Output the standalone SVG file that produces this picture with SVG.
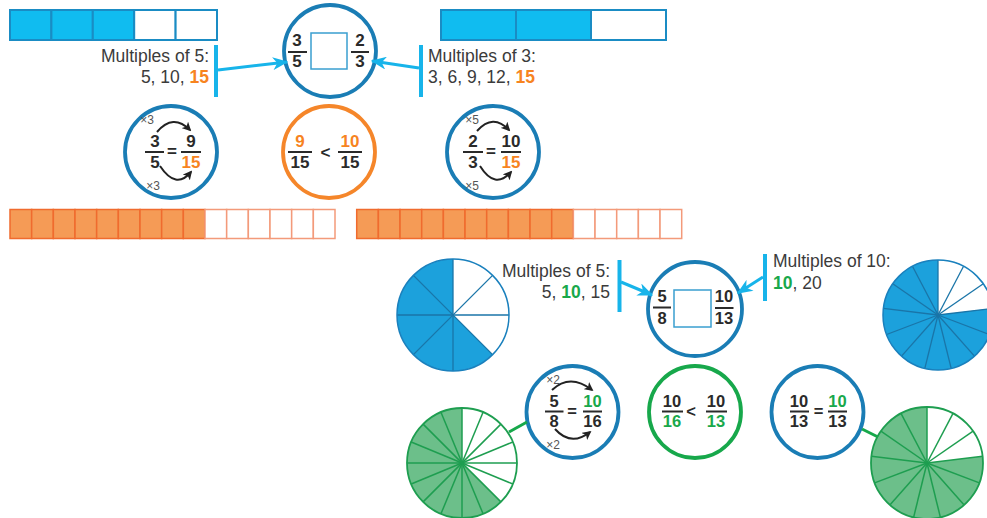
<svg xmlns="http://www.w3.org/2000/svg" width="987" height="518" viewBox="0 0 987 518">
<style>
.lab{font-family:"Liberation Sans",Arial,sans-serif;font-size:17.5px;fill:#3b3b3b}
.fr{font-family:"Liberation Sans",Arial,sans-serif;font-weight:bold;font-size:17px;fill:#2a2a2a;text-anchor:middle}
.fs{font-size:16.5px}
.or{fill:#f7841f}
.gr{fill:#19a84b}
.b{font-weight:bold}
.sm{font-family:"Liberation Sans",Arial,sans-serif;font-size:12px;fill:#555;text-anchor:middle}
.fb{stroke:#2a2a2a;stroke-width:2}
.cb{fill:none;stroke:#1a7db5;stroke-width:3.8}
.co{fill:none;stroke:#f5862a;stroke-width:3.8}
.cg{fill:none;stroke:#17a84b;stroke-width:3.8}
.bc{fill:#10bcf0;stroke:#1a8cc4;stroke-width:2}
.bw{fill:#fff;stroke:#1a8cc4;stroke-width:2}
.oc{fill:#f59b56;stroke:#f06b2e;stroke-width:1.5}
.ow{fill:#fff;stroke:#f39a7a;stroke-width:1.5}
.arc{fill:none;stroke:#222;stroke-width:2}
.cy{stroke:#17b4ea;stroke-width:3;fill:none}
.brk{stroke:#17b4ea;stroke-width:4}
.sq{fill:#fff;stroke:#3a9fd0;stroke-width:1.5}
.pbl{stroke:#1a75a8;stroke-width:1.3}
.pgl{stroke:#1e9e50;stroke-width:1.5}
</style>
<defs>
<marker id="cyh" viewBox="0 0 12 10" refX="11" refY="5" markerWidth="16" markerHeight="13" markerUnits="userSpaceOnUse" orient="auto"><path d="M0,0 L12,5 L0,10 L3.5,5 Z" fill="#17b4ea"/></marker>
<marker id="bk" viewBox="0 0 10 10" refX="8" refY="5" markerWidth="9" markerHeight="9" markerUnits="userSpaceOnUse" orient="auto"><path d="M0,0 L10,5 L0,10 L2.5,5 Z" fill="#222"/></marker>
</defs>

<g id="bar-3-5">
<rect class="bc" x="10" y="10" width="41.4" height="30"/>
<rect class="bc" x="51.4" y="10" width="41.4" height="30"/>
<rect class="bc" x="92.8" y="10" width="41.4" height="30"/>
<rect class="bw" x="134.2" y="10" width="41.4" height="30"/>
<rect class="bw" x="175.6" y="10" width="41.4" height="30"/>
</g>
<g id="bar-2-3">
<rect class="bc" x="441" y="10" width="75" height="30"/>
<rect class="bc" x="516" y="10" width="75" height="30"/>
<rect class="bw" x="591" y="10" width="75" height="30"/>
</g>

<g id="label-mult5-top">
<text class="lab" x="209" y="62" text-anchor="end">Multiples of 5:</text>
<text class="lab" x="209" y="83" text-anchor="end">5, 10, <tspan class="b or">15</tspan></text>
<line class="brk" x1="216" y1="45" x2="216" y2="97"/>
</g>
<g id="label-mult3-top">
<text class="lab" x="428" y="62">Multiples of 3:</text>
<text class="lab" x="428" y="83">3, 6, 9, 12, <tspan class="b or">15</tspan></text>
<line class="brk" x1="421" y1="45" x2="421" y2="97"/>
</g>

<g id="compare-top">
<circle class="cb" cx="330" cy="51" r="46"/>
<rect class="sq" x="311" y="33" width="36" height="36"/>
<text class="fr" x="297" y="46">3</text>
<line class="fb" x1="288" y1="52" x2="307" y2="52"/>
<text class="fr" x="297" y="67">5</text>
<text class="fr" x="360" y="46">2</text>
<line class="fb" x1="351" y1="52" x2="369" y2="52"/>
<text class="fr" x="360" y="67">3</text>
</g>

<g id="equiv-3-5">
<circle class="cb" cx="171" cy="152" r="46"/>
<text class="sm" x="147" y="124">×3</text>
<path class="arc" d="M157,132 Q173,113 190,130" marker-end="url(#bk)"/>
<text class="fr" x="155" y="147">3</text>
<line class="fb" x1="145" y1="152" x2="164" y2="152"/>
<text class="fr" x="155" y="168">5</text>
<text class="fr" x="172" y="157">=</text>
<text class="fr" x="191" y="147">9</text>
<line class="fb" x1="181" y1="152" x2="201" y2="152"/>
<text class="fr or" x="191" y="168">15</text>
<path class="arc" d="M160,166 Q176,190 191,172" marker-end="url(#bk)"/>
<text class="sm" x="153" y="190">×3</text>
</g>

<g id="result-top">
<circle class="co" cx="329" cy="152" r="46"/>
<text class="fr or" x="300" y="147">9</text>
<line class="fb" x1="288" y1="152" x2="312" y2="152"/>
<text class="fr" x="300" y="168">15</text>
<text class="fr" x="325.5" y="158">&lt;</text>
<text class="fr or" x="350" y="147">10</text>
<line class="fb" x1="338" y1="152" x2="362" y2="152"/>
<text class="fr" x="350" y="168">15</text>
</g>

<g id="equiv-2-3">
<circle class="cb" cx="493" cy="152" r="46"/>
<text class="sm" x="472" y="124">×5</text>
<path class="arc" d="M477,131 Q493,113 509,130" marker-end="url(#bk)"/>
<text class="fr" x="473" y="147">2</text>
<line class="fb" x1="463" y1="152" x2="483" y2="152"/>
<text class="fr" x="473" y="168">3</text>
<text class="fr" x="491" y="157">=</text>
<text class="fr" x="511" y="147">10</text>
<line class="fb" x1="501" y1="152" x2="521" y2="152"/>
<text class="fr or" x="511" y="168">15</text>
<path class="arc" d="M480,166 Q495,190 511,172" marker-end="url(#bk)"/>
<text class="sm" x="472" y="190">×5</text>
</g>

<g id="bar-9-15">
<rect class="oc" x="10" y="209.5" width="21.67" height="29"/>
<rect class="oc" x="31.67" y="209.5" width="21.67" height="29"/>
<rect class="oc" x="53.33" y="209.5" width="21.67" height="29"/>
<rect class="oc" x="75" y="209.5" width="21.67" height="29"/>
<rect class="oc" x="96.67" y="209.5" width="21.67" height="29"/>
<rect class="oc" x="118.33" y="209.5" width="21.67" height="29"/>
<rect class="oc" x="140" y="209.5" width="21.67" height="29"/>
<rect class="oc" x="161.67" y="209.5" width="21.67" height="29"/>
<rect class="oc" x="183.33" y="209.5" width="21.67" height="29"/>
<rect class="ow" x="205" y="209.5" width="21.67" height="29"/>
<rect class="ow" x="226.67" y="209.5" width="21.67" height="29"/>
<rect class="ow" x="248.33" y="209.5" width="21.67" height="29"/>
<rect class="ow" x="270" y="209.5" width="21.67" height="29"/>
<rect class="ow" x="291.67" y="209.5" width="21.67" height="29"/>
<rect class="ow" x="313.33" y="209.5" width="21.67" height="29"/>
</g>
<g id="bar-10-15">
<rect class="oc" x="356.7" y="209.5" width="21.67" height="29"/>
<rect class="oc" x="378.37" y="209.5" width="21.67" height="29"/>
<rect class="oc" x="400.03" y="209.5" width="21.67" height="29"/>
<rect class="oc" x="421.7" y="209.5" width="21.67" height="29"/>
<rect class="oc" x="443.37" y="209.5" width="21.67" height="29"/>
<rect class="oc" x="465.03" y="209.5" width="21.67" height="29"/>
<rect class="oc" x="486.7" y="209.5" width="21.67" height="29"/>
<rect class="oc" x="508.37" y="209.5" width="21.67" height="29"/>
<rect class="oc" x="530.03" y="209.5" width="21.67" height="29"/>
<rect class="oc" x="551.7" y="209.5" width="21.67" height="29"/>
<rect class="ow" x="573.37" y="209.5" width="21.67" height="29"/>
<rect class="ow" x="595.03" y="209.5" width="21.67" height="29"/>
<rect class="ow" x="616.7" y="209.5" width="21.67" height="29"/>
<rect class="ow" x="638.37" y="209.5" width="21.67" height="29"/>
<rect class="ow" x="660.03" y="209.5" width="21.67" height="29"/>
</g>

<g id="pie-5-8">
<circle cx="453" cy="315" r="56" fill="#1ca1dc"/>
<path d="M453,315 L453,259 A56,56 0 0 1 492.6,354.6 Z" fill="#fff"/>
<g class="pbl">
<line x1="453" y1="259" x2="453" y2="371"/>
<line x1="397" y1="315" x2="509" y2="315"/>
<line x1="413.4" y1="275.4" x2="492.6" y2="354.6"/>
<line x1="492.6" y1="275.4" x2="413.4" y2="354.6"/>
</g>
<circle cx="453" cy="315" r="56" fill="none" stroke="#1a80bd" stroke-width="1.5"/>
</g>

<g id="pie-10-13-blue">
<circle cx="938" cy="315" r="55" fill="#1ca1dc"/>
<path d="M938,315 L938,260 A55,55 0 0 1 992.6,308.37 Z" fill="#fff"/>
<g class="pbl">
<line x1="938" y1="315" x2="938" y2="260"/>
<line x1="938" y1="315" x2="963.56" y2="266.3"/>
<line x1="938" y1="315" x2="983.26" y2="283.75"/>
<line x1="938" y1="315" x2="992.6" y2="308.37"/>
<line x1="938" y1="315" x2="989.42" y2="334.5"/>
<line x1="938" y1="315" x2="974.47" y2="356.17"/>
<line x1="938" y1="315" x2="951.16" y2="368.4"/>
<line x1="938" y1="315" x2="924.84" y2="368.4"/>
<line x1="938" y1="315" x2="901.53" y2="356.17"/>
<line x1="938" y1="315" x2="886.58" y2="334.5"/>
<line x1="938" y1="315" x2="883.4" y2="308.37"/>
<line x1="938" y1="315" x2="892.74" y2="283.75"/>
<line x1="938" y1="315" x2="912.44" y2="266.3"/>
</g>
<circle cx="938" cy="315" r="55" fill="none" stroke="#1a80bd" stroke-width="1.5"/>
</g>

<g id="label-mult5-bottom">
<text class="lab" x="610" y="277" text-anchor="end">Multiples of 5:</text>
<text class="lab" x="610" y="298" text-anchor="end">5, <tspan class="b gr">10</tspan>, 15</text>
<line class="brk" x1="619.5" y1="260" x2="619.5" y2="312"/>
</g>
<g id="label-mult10-bottom">
<text class="lab" x="773" y="267">Multiples of 10:</text>
<text class="lab" x="773" y="289"><tspan class="b gr">10</tspan>, 20</text>
<line class="brk" x1="765" y1="254" x2="765" y2="301"/>
</g>

<g id="compare-bottom">
<circle class="cb" cx="695" cy="309" r="47"/>
<rect class="sq" x="674" y="290" width="37" height="37"/>
<text class="fr fs" x="662" y="302">5</text>
<line class="fb" x1="653" y1="307.5" x2="671" y2="307.5"/>
<text class="fr fs" x="662" y="324">8</text>
<text class="fr fs" x="724" y="302">10</text>
<line class="fb" x1="715" y1="308" x2="733.5" y2="308"/>
<text class="fr fs" x="724" y="324">13</text>
</g>

<g id="equiv-5-8">
<circle class="cb" cx="572.5" cy="412" r="46"/>
<text class="sm" x="553" y="384">×2</text>
<path class="arc" d="M552,390 Q570,373 592,390" marker-end="url(#bk)"/>
<text class="fr fs" x="554" y="406.5">5</text>
<line class="fb" x1="545" y1="411.5" x2="563.5" y2="411.5"/>
<text class="fr fs" x="554" y="427">8</text>
<text class="fr fs" x="572" y="416.5">=</text>
<text class="fr fs gr" x="592.5" y="406.5">10</text>
<line class="fb" x1="583" y1="411.5" x2="602" y2="411.5"/>
<text class="fr fs" x="592.5" y="427">16</text>
<path class="arc" d="M555,429 Q571,447 590,432" marker-end="url(#bk)"/>
<text class="sm" x="553" y="449">×2</text>
</g>

<g id="result-bottom">
<circle class="cg" cx="695" cy="412" r="46"/>
<text class="fr fs" x="672" y="406.5">10</text>
<line class="fb" x1="662" y1="411.5" x2="683" y2="411.5"/>
<text class="fr fs gr" x="672" y="427">16</text>
<text class="fr fs" x="691" y="417">&lt;</text>
<text class="fr fs" x="716" y="406.5">10</text>
<line class="fb" x1="706" y1="411.5" x2="727" y2="411.5"/>
<text class="fr fs gr" x="716" y="427">13</text>
</g>

<g id="equiv-10-13">
<circle class="cb" cx="817.5" cy="412" r="46"/>
<text class="fr fs" x="799" y="406.5">10</text>
<line class="fb" x1="790" y1="411.5" x2="809" y2="411.5"/>
<text class="fr fs" x="799" y="427">13</text>
<text class="fr fs" x="818.5" y="416.5">=</text>
<text class="fr fs gr" x="837.5" y="406.5">10</text>
<line class="fb" x1="828" y1="411.5" x2="847" y2="411.5"/>
<text class="fr fs" x="837.5" y="427">13</text>
</g>

<g id="pie-10-16">
<circle cx="462" cy="463" r="55" fill="#6cbf8a"/>
<path d="M462,463 L462,408 A55,55 0 0 1 500.89,501.89 Z" fill="#fff"/>
<g class="pgl">
<line x1="462" y1="408" x2="462" y2="518"/>
<line x1="483.05" y1="412.19" x2="440.95" y2="513.81"/>
<line x1="500.89" y1="424.11" x2="423.11" y2="501.89"/>
<line x1="512.81" y1="441.95" x2="411.19" y2="484.05"/>
<line x1="517" y1="463" x2="407" y2="463"/>
<line x1="512.81" y1="484.05" x2="411.19" y2="441.95"/>
<line x1="500.89" y1="501.89" x2="423.11" y2="424.11"/>
<line x1="483.05" y1="513.81" x2="440.95" y2="412.19"/>
</g>
<circle cx="462" cy="463" r="55" fill="none" stroke="#1e9e50" stroke-width="1.8"/>
</g>

<g id="pie-10-13-green">
<circle cx="927" cy="463" r="56" fill="#6cbf8a"/>
<path d="M927,463 L927,407 A56,56 0 0 1 982.59,456.25 Z" fill="#fff"/>
<g class="pgl">
<line x1="927" y1="463" x2="927" y2="407"/>
<line x1="927" y1="463" x2="953.02" y2="413.41"/>
<line x1="927" y1="463" x2="973.09" y2="431.19"/>
<line x1="927" y1="463" x2="982.59" y2="456.25"/>
<line x1="927" y1="463" x2="979.36" y2="482.86"/>
<line x1="927" y1="463" x2="964.13" y2="504.92"/>
<line x1="927" y1="463" x2="940.4" y2="517.37"/>
<line x1="927" y1="463" x2="913.6" y2="517.37"/>
<line x1="927" y1="463" x2="889.87" y2="504.92"/>
<line x1="927" y1="463" x2="874.64" y2="482.86"/>
<line x1="927" y1="463" x2="871.41" y2="456.25"/>
<line x1="927" y1="463" x2="880.91" y2="431.19"/>
<line x1="927" y1="463" x2="900.98" y2="413.41"/>
</g>
<circle cx="927" cy="463" r="56" fill="none" stroke="#1e9e50" stroke-width="1.8"/>
</g>

<g id="connectors">
<line class="cy" x1="218" y1="70" x2="287" y2="62" marker-end="url(#cyh)"/>
<line class="cy" x1="419" y1="68" x2="372" y2="61" marker-end="url(#cyh)"/>
<line class="cy" x1="621" y1="282" x2="652" y2="295" marker-end="url(#cyh)"/>
<line class="cy" x1="763" y1="277" x2="738" y2="293" marker-end="url(#cyh)"/>
<line x1="509" y1="432" x2="527" y2="422" stroke="#17a84b" stroke-width="3"/>
<line x1="862" y1="429" x2="878" y2="437" stroke="#17a84b" stroke-width="3"/>
</g>
</svg>
